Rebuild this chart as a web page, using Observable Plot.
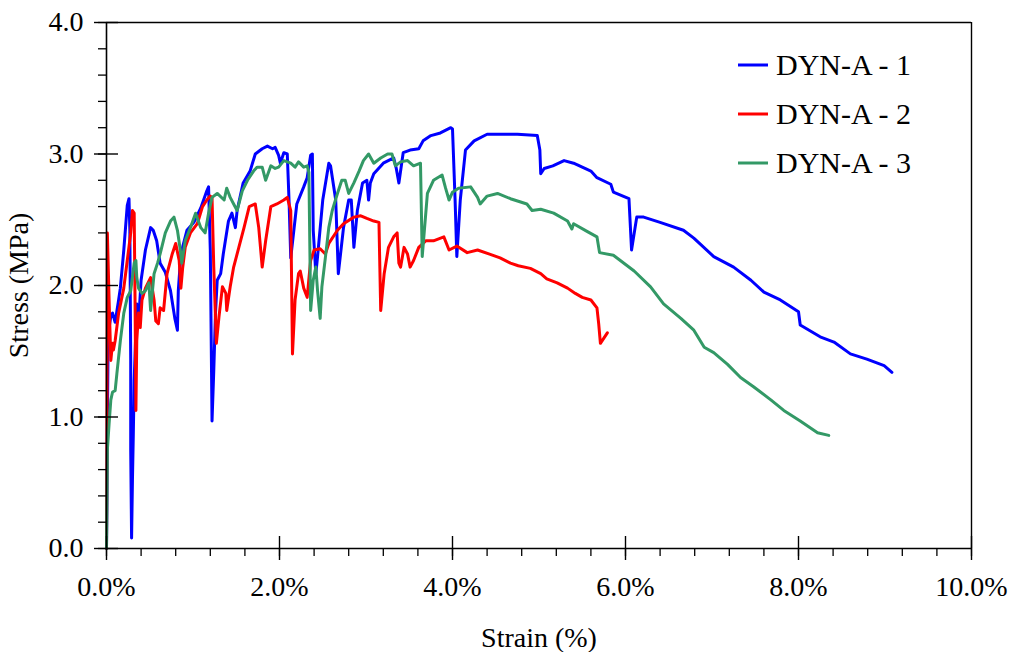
<!DOCTYPE html>
<html><head><meta charset="utf-8">
<script src="https://cdn.jsdelivr.net/npm/d3@7"></script>
<script src="https://cdn.jsdelivr.net/npm/@observablehq/plot@0.6"></script>
<style>
body{margin:0;background:#fff;font-family:"Liberation Serif",serif;}
#wrap{position:relative;width:1014px;height:652px;background:#fff;}
#legend{position:absolute;left:730px;top:40px;}
</style></head><body><div id="wrap">
<svg id="legend" width="230" height="150" xmlns="http://www.w3.org/2000/svg">
<line x1="8" x2="38" y1="25" y2="25" stroke="#0000ff" stroke-width="3"/>
<text x="46" y="35" font-family="Liberation Serif" font-size="30" fill="#000">DYN-A - 1</text>
<line x1="8" x2="38" y1="74" y2="74" stroke="#ff0000" stroke-width="3"/>
<text x="46" y="84" font-family="Liberation Serif" font-size="30" fill="#000">DYN-A - 2</text>
<line x1="8" x2="38" y1="123" y2="123" stroke="#339966" stroke-width="3"/>
<text x="46" y="133" font-family="Liberation Serif" font-size="30" fill="#000">DYN-A - 3</text>
</svg></div>
<script>
const seriesNames = ["DYN-A - 1", "DYN-A - 2", "DYN-A - 3"];
const seriesColors = ["#0000ff", "#ff0000", "#339966"];

const strain1 = [0,0.005,0.01,0.02,0.05,0.07,0.10,0.14,0.16,0.20,0.24,0.26,0.27,0.28,0.28,0.29,0.30,0.31,0.32,0.35,0.37,0.40,0.45,0.51,0.54,0.58,0.62,0.68,0.74,0.79,0.82,0.83,0.86,0.93,1.01,1.09,1.16,1.18,1.20,1.22,1.24,1.26,1.28,1.32,1.35,1.41,1.45,1.49,1.51,1.58,1.66,1.72,1.80,1.86,1.92,1.95,1.99,2.01,2.05,2.09,2.11,2.13,2.20,2.28,2.32,2.36,2.38,2.39,2.42,2.44,2.50,2.57,2.59,2.65,2.68,2.74,2.80,2.83,2.86,2.90,2.96,3.01,3.03,3.05,3.09,3.20,3.32,3.35,3.38,3.43,3.51,3.61,3.66,3.75,3.86,3.98,4.00,4.03,4.05,4.09,4.15,4.25,4.40,4.55,4.75,4.98,5.01,5.02,5.06,5.16,5.29,5.40,5.60,5.67,5.83,5.86,6.04,6.07,6.13,6.21,6.40,6.67,6.79,7.02,7.25,7.45,7.60,7.79,8.00,8.02,8.25,8.41,8.60,8.79,8.99,9.08];
const stress1 = [0,0.37,0.97,1.63,1.77,1.79,1.72,1.89,1.98,2.27,2.61,2.66,2.42,1.43,0.75,0.08,0.52,0.87,1.28,1.86,1.71,2.04,2.27,2.44,2.42,2.34,2.17,2.10,1.96,1.75,1.66,1.96,2.24,2.42,2.48,2.59,2.72,2.75,2.27,0.97,1.35,1.79,2.04,2.09,2.24,2.49,2.55,2.44,2.57,2.78,2.87,3.00,3.04,3.06,3.04,3.05,2.99,2.93,3.01,3.00,2.65,2.21,2.62,2.75,2.82,2.99,3.00,2.42,2.09,2.22,2.65,2.93,2.91,2.65,2.09,2.44,2.65,2.65,2.29,2.57,2.78,2.80,2.65,2.78,2.85,2.93,2.97,2.89,2.78,3.01,3.03,3.04,3.10,3.14,3.16,3.20,3.19,2.65,2.22,2.65,3.03,3.10,3.15,3.15,3.15,3.14,3.03,2.85,2.89,2.91,2.95,2.93,2.87,2.82,2.77,2.71,2.66,2.27,2.52,2.52,2.48,2.42,2.36,2.22,2.14,2.04,1.95,1.89,1.80,1.70,1.61,1.57,1.48,1.44,1.39,1.34];

const strain2 = [0,0.005,0.01,0.03,0.05,0.07,0.08,0.10,0.14,0.20,0.24,0.28,0.30,0.32,0.33,0.34,0.35,0.37,0.39,0.41,0.45,0.51,0.55,0.57,0.60,0.62,0.66,0.70,0.76,0.80,0.84,0.86,0.88,0.91,0.97,1.05,1.11,1.16,1.20,1.22,1.24,1.27,1.30,1.34,1.38,1.39,1.43,1.47,1.53,1.59,1.65,1.72,1.76,1.80,1.84,1.90,1.97,2.05,2.09,2.13,2.15,2.18,2.22,2.24,2.28,2.32,2.36,2.40,2.47,2.53,2.57,2.67,2.74,2.86,2.94,3.01,3.09,3.15,3.16,3.17,3.21,3.26,3.32,3.36,3.38,3.40,3.44,3.48,3.51,3.55,3.61,3.69,3.78,3.90,3.96,4.05,4.17,4.29,4.42,4.55,4.67,4.76,4.90,5.02,5.09,5.21,5.33,5.42,5.50,5.60,5.67,5.69,5.71,5.75,5.79];
const stress2 = [0,0.82,2.40,1.89,1.43,1.56,1.51,1.58,1.79,1.98,2.19,2.40,2.57,2.55,1.89,1.05,1.58,1.79,1.68,1.89,1.98,2.06,1.89,1.73,1.71,1.83,1.81,2.09,2.24,2.32,2.19,1.98,2.13,2.29,2.40,2.47,2.60,2.65,2.68,2.67,2.14,1.56,1.76,1.99,1.94,1.81,1.99,2.14,2.29,2.44,2.60,2.62,2.44,2.14,2.34,2.60,2.62,2.65,2.67,2.57,1.48,1.89,2.09,2.11,1.98,1.91,2.19,2.27,2.28,2.24,2.32,2.42,2.47,2.52,2.53,2.51,2.49,2.48,2.14,1.81,2.09,2.29,2.37,2.40,2.17,2.14,2.29,2.24,2.14,2.19,2.29,2.34,2.34,2.37,2.27,2.30,2.25,2.27,2.24,2.21,2.17,2.15,2.13,2.09,2.05,2.02,1.98,1.94,1.91,1.89,1.83,1.71,1.56,1.60,1.64];

const strain3 = [0,0.01,0.03,0.05,0.07,0.10,0.12,0.16,0.20,0.24,0.28,0.32,0.34,0.35,0.37,0.41,0.45,0.49,0.51,0.55,0.59,0.62,0.68,0.74,0.78,0.82,0.86,0.87,0.91,0.97,1.03,1.09,1.14,1.18,1.22,1.28,1.36,1.39,1.43,1.47,1.51,1.57,1.63,1.70,1.74,1.80,1.84,1.90,1.95,1.99,2.05,2.13,2.18,2.22,2.28,2.32,2.34,2.36,2.39,2.42,2.44,2.47,2.49,2.53,2.57,2.61,2.67,2.72,2.76,2.80,2.86,2.92,2.97,3.03,3.09,3.17,3.25,3.30,3.34,3.40,3.48,3.55,3.63,3.65,3.71,3.78,3.88,3.92,3.96,4.00,4.07,4.21,4.29,4.32,4.40,4.52,4.67,4.86,4.92,5.02,5.17,5.33,5.38,5.40,5.56,5.67,5.70,5.86,6.10,6.29,6.44,6.64,6.79,6.91,7.02,7.18,7.33,7.48,7.68,7.83,8.02,8.22,8.35];
const stress3 = [0,0.75,0.95,1.13,1.19,1.20,1.33,1.58,1.79,1.91,1.96,2.17,2.19,2.06,1.98,1.94,1.96,2.02,1.81,2.09,2.17,2.24,2.40,2.49,2.52,2.42,2.24,2.17,2.34,2.44,2.55,2.44,2.40,2.55,2.67,2.70,2.65,2.74,2.67,2.62,2.57,2.72,2.80,2.87,2.90,2.90,2.80,2.91,2.89,2.90,2.95,2.93,2.90,2.94,2.90,2.91,2.86,1.81,2.04,2.14,1.96,1.75,1.99,2.21,2.44,2.57,2.70,2.80,2.80,2.70,2.78,2.87,2.95,3.00,2.93,2.97,3.00,3.00,2.91,2.94,2.95,2.91,2.93,2.22,2.70,2.80,2.84,2.74,2.65,2.71,2.74,2.75,2.67,2.62,2.68,2.70,2.66,2.62,2.57,2.58,2.55,2.49,2.43,2.47,2.41,2.37,2.25,2.23,2.11,1.99,1.86,1.75,1.66,1.53,1.49,1.40,1.30,1.23,1.13,1.05,0.97,0.88,0.86];

const xMajor = [0, 2, 4, 6, 8, 10];
const xMinor = [0,0.4,0.8,1.2,1.6,2,2.4,2.8,3.2,3.6,4,4.4,4.8,5.2,5.6,6,6.4,6.8,7.2,7.6,8,8.4,8.8,9.2,9.6,10];
const yMajor = [0, 1, 2, 3, 4];
const yMinor = [0,0.2,0.4,0.6,0.8,1,1.2,1.4,1.6,1.8,2,2.2,2.4,2.6,2.8,3,3.2,3.4,3.6,3.8,4];

const rows = [];
[[strain1, stress1], [strain2, stress2], [strain3, stress3]].forEach(([xs, ys], i) => {
  xs.forEach((x, j) => rows.push({series: seriesNames[i], strain: x, stress: ys[j]}));
});

const font = "Liberation Serif";
const chart = Plot.plot({
  width: 1014, height: 652,
  marginLeft: 106, marginRight: 43, marginTop: 22, marginBottom: 104,
  style: {fontFamily: font, fontSize: "27px", color: "#000", background: "#fff"},
  x: {domain: [0, 10]},
  y: {domain: [0, 4]},
  color: {domain: seriesNames, range: seriesColors},
  marks: [
    Plot.line(rows, {x: "strain", y: "stress", z: "series", stroke: "series", strokeWidth: 3, strokeLinejoin: "round", strokeLinecap: "round"}),
    Plot.ruleY([4], {stroke: "#000", strokeWidth: 1.4}),
    Plot.ruleX([10], {stroke: "#000", strokeWidth: 1.4}),
    Plot.ruleY([0], {stroke: "#000", strokeWidth: 1.6}),
    Plot.ruleX([0], {stroke: "#000", strokeWidth: 1.6}),
    Plot.axisX(xMinor, {tickSize: 8, tickFormat: () => "", label: null, strokeWidth: 1.3}),
    Plot.axisX(xMajor, {tickSize: 24, dy: -12, tickFormat: () => "", label: null, strokeWidth: 1.4}),
    Plot.axisX(xMajor, {tickSize: 0, tickPadding: 28, tickFormat: d => d.toFixed(1) + "%", label: "Strain (%)", labelAnchor: "center", labelArrow: "none", labelOffset: 98, fontSize: 28, fontFamily: font}),
    Plot.axisY(yMinor, {tickSize: 8, tickFormat: () => "", label: null, strokeWidth: 1.3}),
    Plot.axisY(yMajor, {tickSize: 24, dx: 12, tickFormat: () => "", label: null, strokeWidth: 1.4}),
    Plot.axisY(yMajor, {tickSize: 0, tickPadding: 23, tickFormat: d => d.toFixed(1), label: "Stress (MPa)", labelAnchor: "center", labelArrow: "none", labelOffset: 98, fontSize: 28, fontFamily: font})
  ]
});
document.getElementById("wrap").prepend(chart);
</script></body></html>
